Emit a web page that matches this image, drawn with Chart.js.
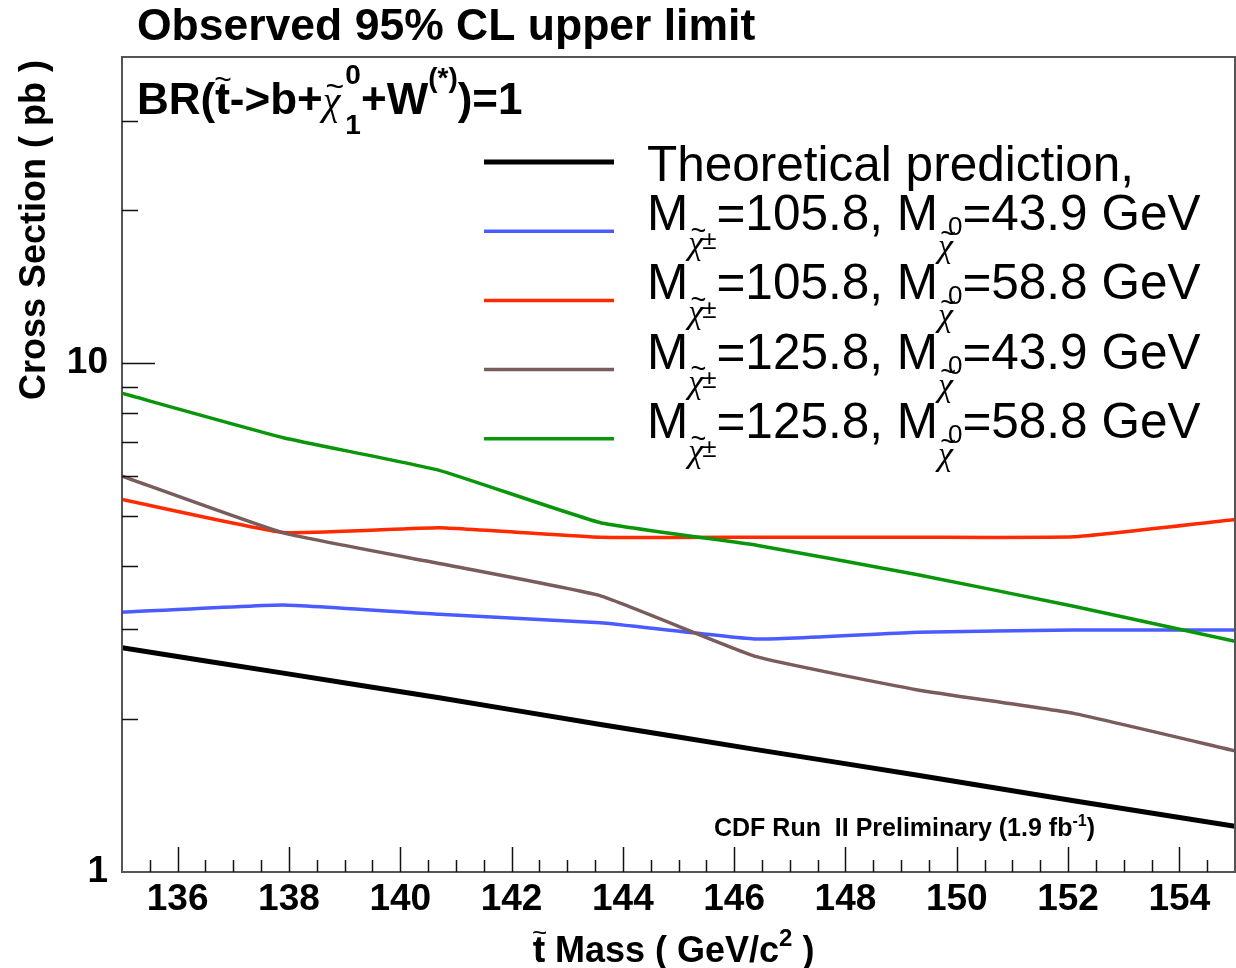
<!DOCTYPE html>
<html>
<head>
<meta charset="utf-8">
<script src="https://cdn.jsdelivr.net/npm/chart.js@4.4.1/dist/chart.umd.min.js"></script>
<style>
  body { margin: 0; background: #fff; }
  canvas { display: block; }
</style>
</head>
<body>
<canvas id="limitChart" width="1236" height="968"></canvas>
<script>
// stop mass points (GeV/c^2)
const stopMass = [135, 137.9, 140.7, 143.6, 146.4, 149.3, 152.1, 155];

// cross sections in pb
const theory        = [2.76, 2.46, 2.20, 1.95, 1.74, 1.55, 1.38, 1.23];
const limit1058_439 = [3.24, 3.35, 3.21, 3.09, 2.87, 2.96, 2.99, 2.99];
const limit1058_588 = [5.40, 4.65, 4.75, 4.55, 4.55, 4.55, 4.56, 4.93];
const limit1258_439 = [6.00, 4.64, 4.04, 3.49, 2.65, 2.28, 2.05, 1.73];
const limit1258_588 = [8.73, 7.14, 6.16, 4.86, 4.39, 3.84, 3.33, 2.84];

// legend masses (GeV)
const charginoMass   = ['105.8', '105.8', '125.8', '125.8'];
const neutralinoMass = ['43.9', '58.8', '43.9', '58.8'];

// axis ticks
const xMajor = [136, 138, 140, 142, 144, 146, 148, 150, 152, 154];
const yLabels = [1, 10];
const yMinor = [2, 3, 4, 5, 6, 7, 8, 9, 20, 30];
const yMajor = [10];

const colors = ['#000000', '#4a5cff', '#ff2a00', '#7a5c5c', '#0a960a'];
const widths = [5, 3.5, 3.5, 3.5, 3.5];

const FONT = '"Liberation Sans", Arial, sans-serif';
const SYMB = '"Liberation Serif", serif';

function toPoints(vals) {
    return vals.map((v, i) => ({ x: stopMass[i], y: v }));
}

const series = [theory, limit1058_439, limit1058_588, limit1258_439, limit1258_588];

// draws a run of text pieces one after another.
// hold keeps x for stacked sub/superscripts, chi draws a tilde-chi
function richText(ctx, x, y, parts, base) {
    let cx = x;
    for (const p of parts) {
        const size = p.size || base.size;
        const by = y + (p.dy || 0);
        let w;
        if (p.chi) {
            ctx.font = `italic normal ${size}px ${SYMB}`;
            ctx.fillText('\u03C7', cx, by);
            w = ctx.measureText('\u03C7').width;
            ctx.font = `normal ${Math.round(size * 0.8)}px ${FONT}`;
            const tw = ctx.measureText('~').width;
            ctx.fillText('~', cx + (w - tw) / 2 + size * 0.08, by - size * 0.42);
        } else {
            ctx.font = `${p.style || 'normal'} ${p.weight || base.weight} ${size}px ${p.family || base.family}`;
            ctx.fillText(p.t, cx + (p.dx || 0), by);
            w = ctx.measureText(p.t).width;
        }
        if (!p.hold) cx += w + (p.dx || 0);
    }
    return cx;
}

const rootStyle = {
    id: 'rootStyle',
    afterDatasetsDraw(chart) {
        const { ctx, chartArea: a, scales: { x, y } } = chart;
        ctx.save();

        // frame
        ctx.strokeStyle = '#555';
        ctx.lineWidth = 2;
        ctx.strokeRect(a.left, a.top, a.right - a.left, a.bottom - a.top);

        // inward tick marks
        ctx.strokeStyle = '#111';
        ctx.lineWidth = 1.5;
        ctx.beginPath();
        for (let v = 135.5; v < 155; v += 0.5) {
            const px = Math.round(x.getPixelForValue(v)) + 0.5;
            const len = xMajor.includes(v) ? 25 : 12;
            ctx.moveTo(px, a.bottom);
            ctx.lineTo(px, a.bottom - len);
        }
        for (const v of yMinor) {
            const py = Math.round(y.getPixelForValue(v)) + 0.5;
            ctx.moveTo(a.left, py);
            ctx.lineTo(a.left + 16, py);
        }
        for (const v of yMajor) {
            const py = Math.round(y.getPixelForValue(v)) + 0.5;
            ctx.moveTo(a.left, py);
            ctx.lineTo(a.left + 33, py);
        }
        ctx.stroke();

        ctx.fillStyle = '#000';
        ctx.textAlign = 'left';
        ctx.textBaseline = 'alphabetic';

        // title
        ctx.font = `bold 44.5px ${FONT}`;
        ctx.fillText('Observed 95% CL upper limit', 137, 40);

        // branching ratio label
        const bold = { size: 44, weight: 'bold', family: FONT };
        richText(ctx, 137, 114, [
            { t: 'BR(' },
            { t: 't', hold: true },
            { t: '~', size: 30, dy: -25, dx: -1, hold: true, weight: 'normal' },
            { t: 't' },
            { t: '->b+' },
            { chi: true, size: 40, dx: 2 },
            { t: '0', size: 28, dy: -30, hold: true, dx: 3 },
            { t: '1', size: 28, dy: 20, dx: 3 },
            { t: '+W' },
            { t: '(*)', size: 28, dy: -27 },
            { t: ')=1' }
        ], bold);

        // legend
        const reg = { size: 49.5, weight: 'normal', family: FONT };
        for (let i = 0; i < 5; i++) {
            const ly = 162 + i * 69.2;
            ctx.strokeStyle = colors[i];
            ctx.lineWidth = widths[i];
            ctx.beginPath();
            ctx.moveTo(484, ly);
            ctx.lineTo(614, ly);
            ctx.stroke();
            if (i === 0) {
                ctx.font = `normal 49.5px ${FONT}`;
                ctx.fillText('Theoretical prediction,', 647, ly + 19);
            } else {
                richText(ctx, 647, ly - 1, [
                    { t: 'M' },
                    { chi: true, size: 34, dy: 24 },
                    { t: '\u00B1', size: 26, dy: 19, dx: -1 },
                    { t: '=' + charginoMass[i - 1] + ', M' },
                    { chi: true, size: 34, dy: 27, dx: -4 },
                    { t: '0', size: 26, dy: 5, dx: -1 },
                    { t: '=' + neutralinoMass[i - 1] + ' GeV' }
                ], reg);
            }
        }

        // experiment tag
        const small = { size: 25, weight: 'bold', family: FONT };
        richText(ctx, 714, 836, [
            { t: 'CDF Run  II Preliminary (1.9 fb' },
            { t: '-1', size: 16, dy: -10 },
            { t: ')' }
        ], small);

        // y axis title
        ctx.save();
        ctx.translate(45, 60);
        ctx.rotate(-Math.PI / 2);
        ctx.textAlign = 'right';
        ctx.font = `bold 36px ${FONT}`;
        ctx.fillText('Cross Section ( pb )', 0, 0);
        ctx.restore();

        // x axis title
        ctx.textAlign = 'left';
        const xt = { size: 36, weight: 'bold', family: FONT };
        richText(ctx, 533, 962, [
            { t: 't', hold: true },
            { t: '~', size: 26, dy: -21, dx: -1, hold: true, weight: 'normal' },
            { t: 't Mass ( GeV/c' },
            { t: '2', size: 24, dy: -16 },
            { t: ' )' }
        ], xt);

        ctx.restore();
    }
};

const ctx = document.getElementById('limitChart').getContext('2d');

new Chart(ctx, {
    type: 'line',
    data: {
        datasets: series.map((vals, i) => ({
            data: toPoints(vals),
            borderColor: colors[i],
            borderWidth: widths[i],
            pointRadius: 0,
            tension: 0.12,
            fill: false,
            order: 5 - i
        }))
    },
    options: {
        responsive: false,
        animation: false,
        layout: { padding: { top: 57, right: 1, left: 0, bottom: 0 } },
        plugins: {
            legend: { display: false },
            tooltip: { enabled: false }
        },
        scales: {
            x: {
                type: 'linear',
                min: 135,
                max: 155,
                grid: { display: false, drawTicks: false },
                border: { display: false },
                afterBuildTicks: s => { s.ticks = xMajor.map(v => ({ value: v })); },
                afterFit: s => { s.height = 96; },
                ticks: {
                    color: '#000',
                    padding: 6,
                    maxRotation: 0,
                    autoSkip: false,
                    font: { family: FONT, size: 37, weight: 'bold' }
                }
            },
            y: {
                type: 'logarithmic',
                min: 1,
                max: 40,
                grid: { display: false, drawTicks: false },
                border: { display: false },
                afterBuildTicks: s => { s.ticks = yLabels.map(v => ({ value: v })); },
                afterFit: s => { s.width = 122; },
                ticks: {
                    color: '#000',
                    padding: 14,
                    autoSkip: false,
                    callback: v => String(v),
                    font: { family: FONT, size: 37, weight: 'bold' }
                }
            }
        }
    },
    plugins: [rootStyle]
});
</script>
</body>
</html>
